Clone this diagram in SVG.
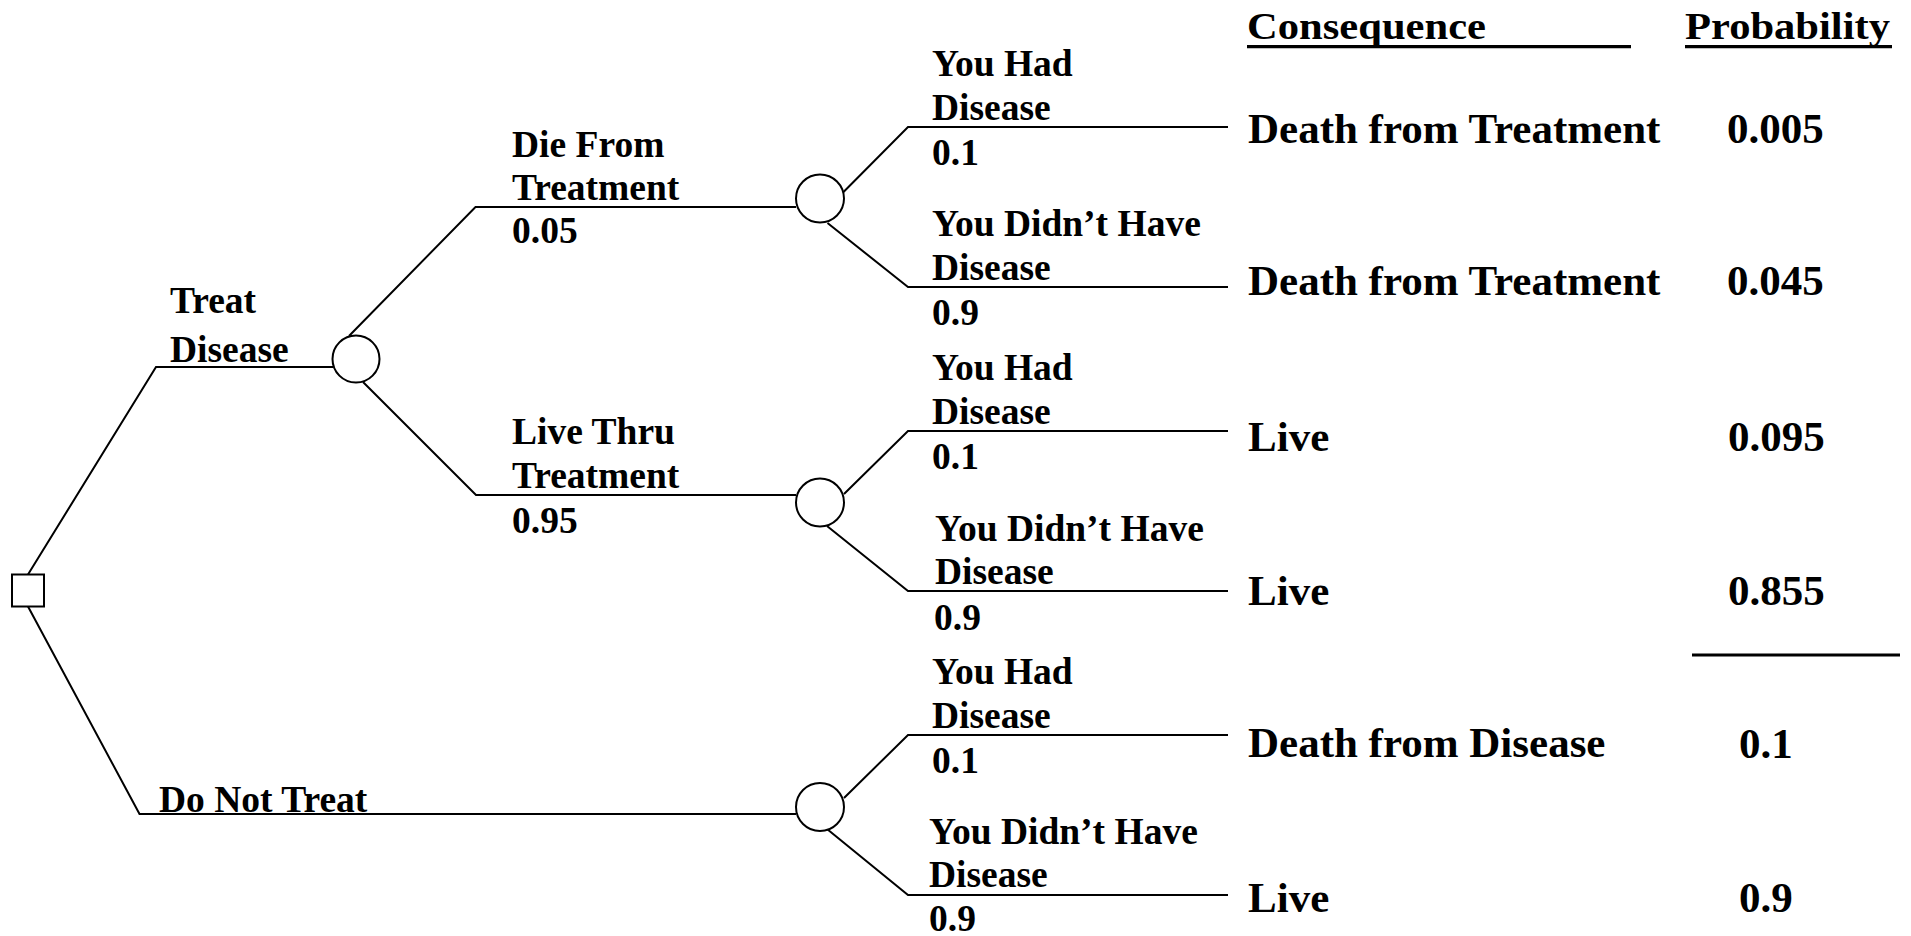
<svg xmlns="http://www.w3.org/2000/svg" width="1911" height="936" viewBox="0 0 1911 936">
<style>
  .ln { fill: none; stroke: #000; stroke-width: 2; stroke-linejoin: miter; }
  .node { fill: #fff; stroke: #000; stroke-width: 2; }
  text { font-family: "Liberation Serif", "Times New Roman", serif; font-weight: bold; fill: #000; }
  .lbl { font-size: 37.5px; }
  .cons { font-size: 43px; }
  .hdr { font-size: 37.5px; }
  .rule { stroke: #000; stroke-width: 3.3; }
</style>
<rect width="1911" height="936" fill="#fff"/>

<g id="connectors">
  <polyline class="ln" points="28,574.5 156,367 333,367"/>
  <polyline class="ln" points="28,606.5 139.5,814 796,814"/>
  <polyline class="ln" points="349,336 475.5,207 796,207"/>
  <polyline class="ln" points="363,382 476,495 796,495"/>
  <polyline class="ln" points="843.5,192 908,127 1228,127"/>
  <polyline class="ln" points="827.5,223 908,287 1228,287"/>
  <polyline class="ln" points="844,494 908,431 1228,431"/>
  <polyline class="ln" points="827,526 908,591 1228,591"/>
  <polyline class="ln" points="844,798 908,735 1228,735"/>
  <polyline class="ln" points="827,829 908,895 1228,895"/>
</g>

<g id="decision">
  <rect class="node" x="12" y="574.5" width="32" height="32"/>
</g>

<g id="treat-chance">
  <circle class="node" cx="356" cy="359" r="23.5"/>
</g>
<g id="treat-label">
  <text class="lbl" x="170" y="313">Treat</text>
  <text class="lbl" x="170" y="362">Disease</text>
</g>

<g id="notreat-label">
  <text class="lbl" x="159" y="812">Do Not Treat</text>
</g>

<g id="die-chance">
  <circle class="node" cx="820" cy="198.5" r="24"/>
</g>
<g id="die-label">
  <text class="lbl" x="512" y="157">Die From</text>
  <text class="lbl" x="512" y="200">Treatment</text>
  <text class="lbl" x="512" y="243">0.05</text>
</g>

<g id="live-chance">
  <circle class="node" cx="820" cy="502.5" r="24"/>
</g>
<g id="live-label">
  <text class="lbl" x="512" y="444">Live Thru</text>
  <text class="lbl" x="512" y="488">Treatment</text>
  <text class="lbl" x="512" y="533">0.95</text>
</g>

<g id="notreat-chance">
  <circle class="node" cx="820" cy="807" r="24"/>
</g>

<g id="branch-labels">
  <text class="lbl" x="932" y="76">You Had</text>
  <text class="lbl" x="932" y="120">Disease</text>
  <text class="lbl" x="932" y="165">0.1</text>
  <text class="lbl" x="932" y="236">You Didn’t Have</text>
  <text class="lbl" x="932" y="280">Disease</text>
  <text class="lbl" x="932" y="325">0.9</text>

  <text class="lbl" x="932" y="380">You Had</text>
  <text class="lbl" x="932" y="424">Disease</text>
  <text class="lbl" x="932" y="469">0.1</text>
  <text class="lbl" x="935" y="541">You Didn’t Have</text>
  <text class="lbl" x="935" y="584">Disease</text>
  <text class="lbl" x="934" y="630">0.9</text>

  <text class="lbl" x="932" y="684">You Had</text>
  <text class="lbl" x="932" y="728">Disease</text>
  <text class="lbl" x="932" y="773">0.1</text>
  <text class="lbl" x="929" y="844">You Didn’t Have</text>
  <text class="lbl" x="929" y="887">Disease</text>
  <text class="lbl" x="929" y="931">0.9</text>
</g>

<g id="headers">
  <text class="hdr" x="1247" y="39" textLength="239" lengthAdjust="spacingAndGlyphs">Consequence</text>
  <line class="rule" x1="1247" y1="46.7" x2="1631" y2="46.7"/>
  <text class="hdr" x="1685" y="39" textLength="205" lengthAdjust="spacingAndGlyphs">Probability</text>
  <line class="rule" x1="1685" y1="46.7" x2="1892" y2="46.7"/>
</g>

<g id="consequences">
  <text class="cons" x="1248" y="143">Death from Treatment</text>
  <text class="cons" x="1248" y="295">Death from Treatment</text>
  <text class="cons" x="1248" y="451">Live</text>
  <text class="cons" x="1248" y="604.5">Live</text>
  <text class="cons" x="1248" y="757">Death from Disease</text>
  <text class="cons" x="1248" y="912">Live</text>
</g>

<g id="probabilities">
  <text class="cons" x="1727" y="143">0.005</text>
  <text class="cons" x="1727" y="295">0.045</text>
  <text class="cons" x="1728" y="451">0.095</text>
  <text class="cons" x="1728" y="604.5">0.855</text>
  <line x1="1692" y1="655" x2="1900" y2="655" stroke="#000" stroke-width="3"/>
  <text class="cons" x="1739" y="758">0.1</text>
  <text class="cons" x="1739" y="912">0.9</text>
</g>
</svg>
